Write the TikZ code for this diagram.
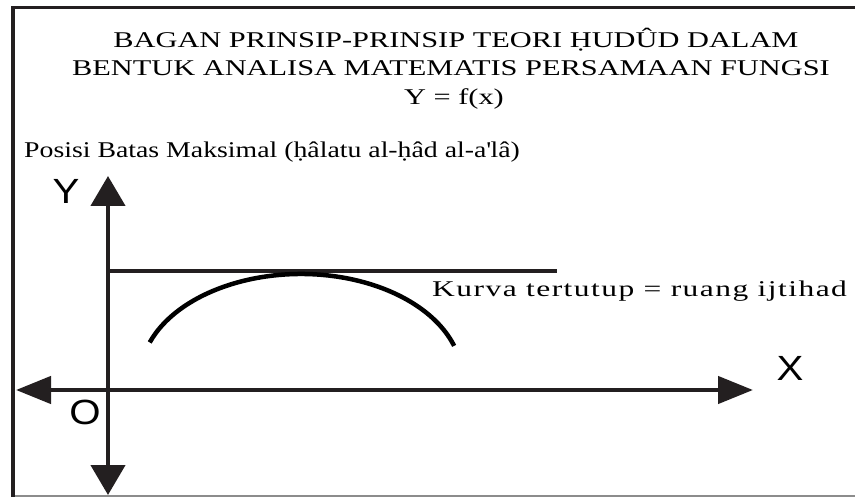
\documentclass[tikz,border=0pt]{standalone}
\usepackage{fontspec}
\setmainfont{Liberation Serif}
\newfontfamily\headfont[FakeStretch=1.35]{Liberation Serif}
\newfontfamily\remarkfont[FakeStretch=1.235]{Liberation Serif}
\newfontfamily\curvefont[FakeStretch=1.4, LetterSpace=6.5]{Liberation Serif}
\newfontfamily\axisfont[FakeStretch=1.15]{Liberation Sans}
\usetikzlibrary{arrows.meta}
\definecolor{framecolor}{RGB}{35,31,32}
\definecolor{edgecolor}{RGB}{140,140,140}
\tikzset{
    heading/.style={inner sep=0pt, anchor=base, font=\headfont\fontsize{22.5}{27}\selectfont},
    remark/.style={inner sep=0pt, anchor=base west, font=\remarkfont\fontsize{22.5}{27}\selectfont},
    axislabel/.style={inner sep=0pt, font=\axisfont\fontsize{35}{35}\selectfont},
    axisline/.style={line width=4.5pt, draw=framecolor},
    vtip/.style={-{Triangle[length=30pt, width=34pt]}},
    htip/.style={-{Triangle[length=35pt, width=27pt]}}
}

\begin{document}
\begin{tikzpicture}[x=1pt, y=-1pt]
    \useasboundingbox (0,0) rectangle (855,497);

    % Frame
    \draw[edgecolor, line width=1.5pt] (13,496) -- (855,496);
    \draw[framecolor, line width=3pt] (855,8) -- (13,8);
    \draw[framecolor, line width=4pt] (13,6.5) -- (13,497);

    % Title
    \node[heading] (title1) at (456,48) {BAGAN PRINSIP-PRINSIP TEORI ḤUDÛD DALAM};
    \node[heading] (title2) at (451,76) {BENTUK ANALISA MATEMATIS PERSAMAAN FUNGSI};
    \node[heading] (title3) at (454,105) {Y = f(x)};

    \node[remark] (maxpos) at (24,158) {Posisi Batas Maksimal (ḥâlatu al-ḥâd al-a\textquotesingle lâ)};

    % Axes
    \coordinate (origin) at (108,390);
    \coordinate (ytop) at (108,176);
    \coordinate (ybot) at (108,495);
    \coordinate (xleft) at (16,390);
    \coordinate (xright) at (753,390);
    \draw[axisline, vtip] (origin) -- (ytop);
    \draw[axisline, vtip] (origin) -- (ybot);
    \draw[axisline, htip] (origin) -- (xleft);
    \draw[axisline, htip] (origin) -- (xright);

    \node[axislabel] (ylab) at (66,191) {Y};
    \node[axislabel] (xlab) at (790,368) {X};
    \node[axislabel] (olab) at (85,412) {O};

    % Upper limit and closed curve
    \coordinate (limleft) at (108,271);
    \coordinate (limright) at (557,271);
    \draw[framecolor, line width=3.5pt] (limleft) -- (limright);

    \coordinate (ctr) at (301,378);
    \draw[black, line width=4.5pt] ([shift={(-160:161 and 104)}]ctr)
        arc[start angle=-160, end angle=-18, x radius=161, y radius=104];

    \node[remark, font=\curvefont\fontsize{22.5}{27}\selectfont] (curvelab) at (432,297) {Kurva tertutup = ruang ijtihad};

\end{tikzpicture}
\end{document}
